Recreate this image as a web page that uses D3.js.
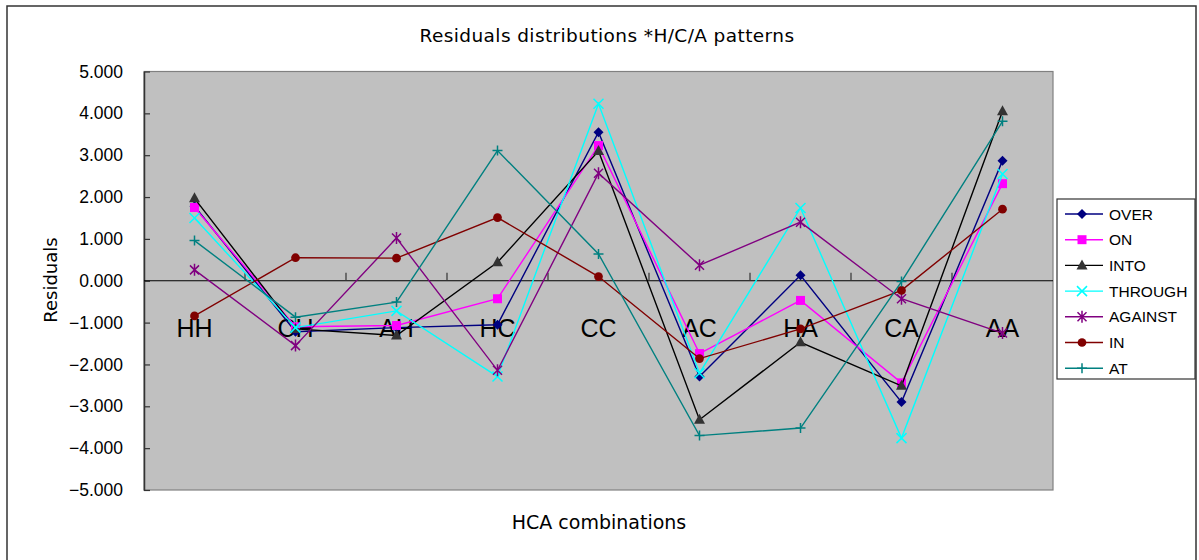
<!DOCTYPE html>
<html>
<head>
<meta charset="utf-8">
<script src="https://cdn.jsdelivr.net/npm/d3@7"></script>
<style>
	body { margin: 0; background: #fff; }
	text { font-family: "Liberation Sans", Arial, sans-serif; }
	.ttl { font-family: "DejaVu Sans", sans-serif; }
</style>
</head>
<body>
<div id="canvas"></div>
<script>
var width = 1199,
	height = 560;

var categories = ["HH", "CH", "AH", "HC", "CC", "AC", "HA", "CA", "AA"];
var seriesNames = ["OVER", "ON", "INTO", "THROUGH", "AGAINST", "IN", "AT"];

var over    = [1.78, -1.22, -1.12, -1.05, 3.55, -2.29, 0.13, -2.90, 2.87];
var on      = [1.75, -1.10, -1.07, -0.43, 3.23, -1.74, -0.47, -2.44, 2.32];
var into    = [1.97, -1.15, -1.31, 0.44, 3.10, -3.32, -1.47, -2.51, 4.05];
var through = [1.50, -1.12, -0.72, -2.29, 4.23, -2.21, 1.74, -3.76, 2.55];
var against = [0.26, -1.55, 1.02, -2.14, 2.57, 0.37, 1.40, -0.43, -1.25];
var inn     = [-0.84, 0.55, 0.54, 1.51, 0.10, -1.86, -1.15, -0.23, 1.71];
var at      = [0.96, -0.87, -0.51, 3.11, 0.64, -3.70, -3.52, -0.02, 3.81];

var yTicks = [5, 4, 3, 2, 1, 0, -1, -2, -3, -4, -5];

var series = [
	{ name: "OVER", values: over, color: "#000080", marker: "diamond" },
	{ name: "ON", values: on, color: "#FF00FF", marker: "square" },
	{ name: "INTO", values: into, color: "#000000", fill: "#333333", marker: "triangle" },
	{ name: "THROUGH", values: through, color: "#00FFFF", marker: "x" },
	{ name: "AGAINST", values: against, color: "#800080", marker: "star" },
	{ name: "IN", values: inn, color: "#800000", marker: "circle" },
	{ name: "AT", values: at, color: "#008080", marker: "plus" }
];

var plot = { left: 144, top: 71.5, right: 1053, bottom: 490 };

var svg = d3.select("#canvas")
	.append("svg")
		.attr("width", width)
		.attr("height", height)
		.style("display", "block")

// outer chart frame
svg.append("rect")
	.attr("x", 7).attr("y", 6)
	.attr("width", 1189).attr("height", 570)
	.attr("fill", "#fff")
	.attr("stroke", "#333").attr("stroke-width", 1.5)

var x = d3.scaleBand()
	.domain(categories)
	.range([plot.left, plot.right])

var y = d3.scaleLinear()
	.domain([-5, 5])
	.range([plot.bottom, plot.top])

// plot area
svg.append("rect")
	.attr("x", plot.left).attr("y", plot.top)
	.attr("width", plot.right - plot.left)
	.attr("height", plot.bottom - plot.top)
	.attr("fill", "#C0C0C0")
	.attr("stroke", "#808080").attr("stroke-width", 1.2)

// title + axis titles
svg.append("text")
	.classed("ttl", true)
	.attr("x", 607).attr("y", 42)
	.attr("text-anchor", "middle")
	.attr("font-size", 18.5)
	.attr("letter-spacing", 0.4)
	.text("Residuals distributions *H/C/A patterns")

svg.append("text")
	.classed("ttl", true)
	.attr("transform", "translate(57,280) rotate(-90)")
	.attr("text-anchor", "middle")
	.attr("font-size", 18)
	.text("Residuals")

svg.append("text")
	.classed("ttl", true)
	.attr("x", 599).attr("y", 529)
	.attr("text-anchor", "middle")
	.attr("font-size", 19)
	.text("HCA combinations")

// y axis
var yAxis = svg.append("g")
	.attr("transform", "translate(" + plot.left + ",0)")
	.call(d3.axisLeft(y)
		.tickValues(yTicks)
		.tickFormat(d3.format(".3f"))
		.tickSizeInner(-6)
		.tickSizeOuter(0)
		.tickPadding(21))

yAxis.select(".domain").attr("stroke", "#333").attr("stroke-width", 1.5)
yAxis.selectAll(".tick line").attr("stroke", "#333").attr("stroke-width", 1.2)
yAxis.selectAll(".tick text")
	.attr("font-size", 17.5)
	.attr("fill", "#000")
	.style("font-family", "'Liberation Sans', Arial, sans-serif")

// category labels
svg.selectAll(".cat")
	.data(categories)
	.enter()
	.append("text")
		.classed("cat", true)
		.attr("x", function(d){ return x(d) + x.bandwidth() / 2; })
		.attr("y", 337)
		.attr("text-anchor", "middle")
		.attr("font-size", 25)
		.text(function(d){ return d; })

// zero line with tick marks between categories
svg.append("line")
	.attr("x1", plot.left).attr("x2", plot.right)
	.attr("y1", y(0)).attr("y2", y(0))
	.attr("stroke", "#000").attr("stroke-width", 1.2)

svg.selectAll(".xtick")
	.data(categories.slice(1))
	.enter()
	.append("line")
		.attr("x1", function(d){ return x(d); })
		.attr("x2", function(d){ return x(d); })
		.attr("y1", y(0)).attr("y2", y(0) - 8)
		.attr("stroke", "#333").attr("stroke-width", 1.2)

function markerPath(type){
	switch(type){
		case "diamond": return "M0,-5L5,0L0,5L-5,0Z";
		case "square": return "M-4.5,-4.5H4.5V4.5H-4.5Z";
		case "triangle": return "M0,-6L5.5,4H-5.5Z";
		case "x": return "M-5,-5L5,5M-5,5L5,-5";
		case "star": return "M-4.5,-4.5L4.5,4.5M-4.5,4.5L4.5,-4.5M0,-6V6";
		case "circle": return d3.symbol(d3.symbolCircle, 60)();
		case "plus": return "M-5,0H5M0,-5V5";
	}
}

function drawMarker(g, s){
	var open = (s.marker === "x" || s.marker === "star" || s.marker === "plus");
	g.append("path")
		.attr("d", markerPath(s.marker))
		.attr("fill", open ? "none" : (s.fill || s.color))
		.attr("stroke", open ? s.color : "none")
		.attr("stroke-width", 1.5)
}

var line = d3.line()
	.x(function(d, i){ return x(categories[i]) + x.bandwidth() / 2; })
	.y(function(d){ return y(d); })

var seriesG = svg.selectAll(".series")
	.data(series)
	.enter()
	.append("g")
		.classed("series", true)

seriesG.append("path")
	.attr("d", function(s){ return line(s.values); })
	.attr("fill", "none")
	.attr("stroke", function(s){ return s.color; })
	.attr("stroke-width", 1.4)

seriesG.each(function(s){
	var g = d3.select(this);
	s.values.forEach(function(v, i){
		var m = g.append("g")
			.attr("transform", "translate(" + (x(categories[i]) + x.bandwidth() / 2) + "," + y(v) + ")");
		drawMarker(m, s);
	});
})

// legend
var legend = svg.append("g")
	.attr("transform", "translate(1057,199)")

legend.append("rect")
	.attr("width", 138).attr("height", 180)
	.attr("fill", "#fff")
	.attr("stroke", "#333").attr("stroke-width", 1.2)

var item = legend.selectAll(".item")
	.data(series)
	.enter()
	.append("g")
		.attr("transform", function(d, i){ return "translate(0," + (15 + i * 25.7) + ")"; })

item.append("line")
	.attr("x1", 8).attr("x2", 46)
	.attr("stroke", function(d){ return d.color; })
	.attr("stroke-width", 1.4)

item.each(function(s){
	var m = d3.select(this).append("g").attr("transform", "translate(25,0)");
	drawMarker(m, s);
})

item.append("text")
	.attr("x", 52).attr("y", 5.5)
	.attr("font-size", 15.5)
	.text(function(d){ return d.name; })
</script>
</body>
</html>
